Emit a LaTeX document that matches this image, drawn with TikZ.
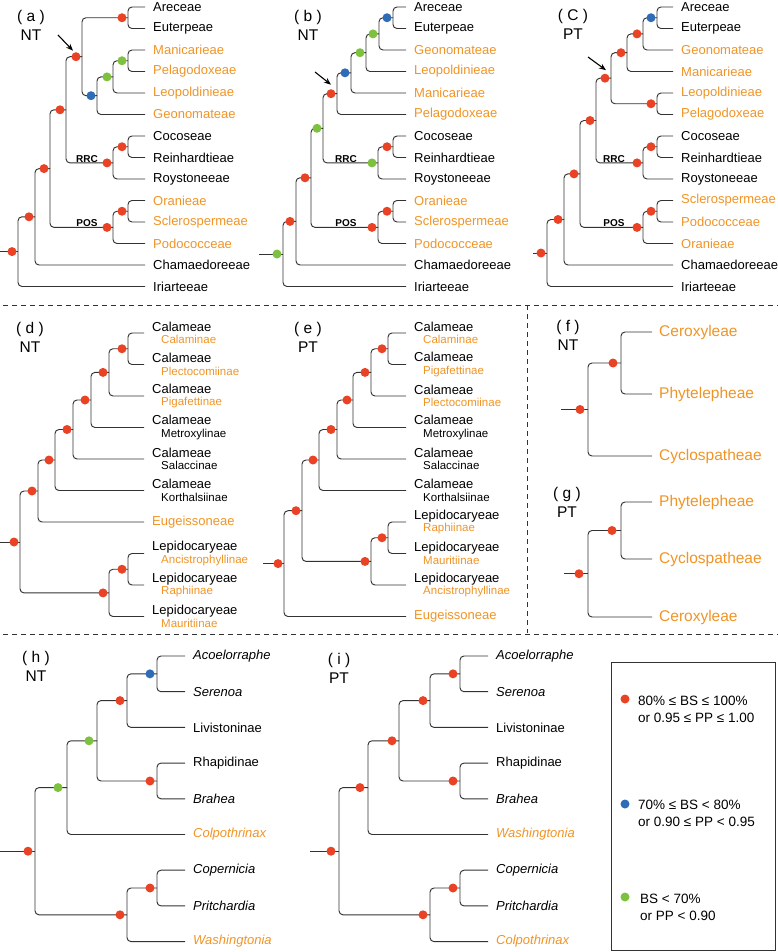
\documentclass[tikz,border=0pt]{standalone}
\usepackage{fontspec}
\setmainfont{Liberation Sans}
\usepackage{tikz}
\usetikzlibrary{arrows.meta, positioning}

\definecolor{dotred}{RGB}{233,66,36}
\definecolor{dotblue}{RGB}{46,108,182}
\definecolor{dotgreen}{RGB}{126,193,62}
\definecolor{taxorange}{RGB}{240,148,38}
\definecolor{branchgray}{RGB}{50,50,50}
\newcommand{\taxsub}{\fontsize{11.5}{12.5}\selectfont}

\begin{document}
\begin{tikzpicture}[x=1pt, y=-1pt,
  every node/.style={font=\fontsize{13}{15}\selectfont, inner sep=0pt},
  br/.style={draw=branchgray, line width=0.95pt, rounded corners=4pt},
  tip/.style={anchor=west, inner xsep=8pt},
  tipo/.style={tip, text=taxorange},
  tipi/.style={tip, font=\fontsize{13}{15}\selectfont\itshape},
  tipio/.style={tipi, text=taxorange},
  tipb/.style={tip, inner xsep=7pt, font=\fontsize{15.5}{17}\selectfont, text=taxorange},
  tipx/.style={tip, align=left, font=\fontsize{13}{12.5}\selectfont},
  panel/.style={align=center, font=\fontsize{15.5}{19}\selectfont},
  clade/.style={anchor=south, inner sep=1pt, font=\fontsize{10}{12}\selectfont\bfseries},
  arr/.style={-{Stealth[length=7pt, width=5.5pt]}, line width=1.1pt},
  sep/.style={draw=branchgray, line width=0.8pt, dash pattern=on 5pt off 4pt},
  leg/.style={anchor=west, align=left, font=\fontsize{13.5}{17}\selectfont}
]
\useasboundingbox (0,0) rectangle (778,952);

%% ---- PANEL (a) NT ---------------------------------------------
\node[panel] (pa) at (31,25) {(\ a\ )\\NT};

\node[tip]  (aAre) at (145,7)     {Areceae};
\node[tip]  (aEut) at (145,28.5)  {Euterpeae};
\node[tipo] (aMan) at (145,50)    {Manicarieae};
\node[tipo] (aPel) at (145,71.5)  {Pelagodoxeae};
\node[tipo] (aLeo) at (145,93)    {Leopoldinieae};
\node[tipo] (aGeo) at (145,114.5) {Geonomateae};
\node[tip]  (aCoc) at (145,136)   {Cocoseae};
\node[tip]  (aRei) at (145,157.5) {Reinhardtieae};
\node[tip]  (aRoy) at (145,179)   {Roystoneeae};
\node[tipo] (aOra) at (145,200.5) {Oranieae};
\node[tipo] (aScl) at (145,222)   {Sclerospermeae};
\node[tipo] (aPod) at (145,243.5) {Podococceae};
\node[tip]  (aCha) at (145,265)   {Chamaedoreeae};
\node[tip]  (aIri) at (145,286.5) {Iriarteeae};

\coordinate (a00)  at (0,251.6);
\coordinate (a0)   at (18,251.6);
\coordinate (a1)   at (35,216.8);
\coordinate (a2)   at (50,168.6);
\coordinate (a3)   at (66,109.8);
\coordinate (a4)   at (82,56.7);
\coordinate (a5)   at (128,17.75);
\coordinate (a6)   at (97,95.7);
\coordinate (a7)   at (113,76.9);
\coordinate (a8)   at (128,60.75);
\coordinate (aRRC) at (113,162.9);
\coordinate (a9)   at (128,146.75);
\coordinate (aPOS) at (113,227.4);
\coordinate (a10)  at (128,211.25);

\draw[br] (a00) -- (a0);
\draw[br] (a0) |- (a1) (a0) |- (aIri);
\draw[br] (a1) |- (a2) (a1) |- (aCha);
\draw[br] (a2) |- (a3) (a2) |- (aPOS);
\draw[br] (a3) |- (a4) (a3) |- (aRRC);
\draw[br] (a4) |- (a5) (a4) |- (a6);
\draw[br] (a5) |- (aAre) (a5) |- (aEut);
\draw[br] (a6) |- (a7) (a6) |- (aGeo);
\draw[br] (a7) |- (a8) (a7) |- (aLeo);
\draw[br] (a8) |- (aMan) (a8) |- (aPel);
\draw[br] (aRRC) |- (a9) (aRRC) |- (aRoy);
\draw[br] (a9) |- (aCoc) (a9) |- (aRei);
\draw[br] (aPOS) |- (a10) (aPOS) |- (aPod);
\draw[br] (a10) |- (aOra) (a10) |- (aScl);

\fill[dotred] ([xshift=-6pt]a0) circle (4.5) ([xshift=-6pt]a1) circle (4.5)
  ([xshift=-6pt]a2) circle (4.5) ([xshift=-6pt]a3) circle (4.5)
  ([xshift=-6pt]a4) circle (4.5) ([xshift=-6pt]a5) circle (4.5)
  ([xshift=-6pt]aRRC) circle (4.5) ([xshift=-6pt]a9) circle (4.5)
  ([xshift=-6pt]aPOS) circle (4.5) ([xshift=-6pt]a10) circle (4.5);
\fill[dotblue] ([xshift=-6pt]a6) circle (4.5);
\fill[dotgreen] ([xshift=-6pt]a7) circle (4.5) ([xshift=-6pt]a8) circle (4.5);

\node[clade] (aRRCl) at (87,163.5) {RRC};
\node[clade] (aPOSl) at (87,228) {POS};

\coordinate (aArr) at (58,35);
\draw[arr] (aArr) -- ([shift={(-9,-6)}]a4);

%% ---- PANEL (b) NT ---------------------------------------------
\node[panel] (pb) at (308,25) {(\ b\ )\\NT};

\node[tip]  (bAre) at (406,7)     {Areceae};
\node[tip]  (bEut) at (406,28.5)  {Euterpeae};
\node[tipo] (bGeo) at (406,50)    {Geonomateae};
\node[tipo] (bLeo) at (406,71.5)  {Leopoldinieae};
\node[tipo] (bMan) at (406,93)    {Manicarieae};
\node[tipo] (bPel) at (406,114.5) {Pelagodoxeae};
\node[tip]  (bCoc) at (406,136)   {Cocoseae};
\node[tip]  (bRei) at (406,157.5) {Reinhardtieae};
\node[tip]  (bRoy) at (406,179)   {Roystoneeae};
\node[tipo] (bOra) at (406,200.5) {Oranieae};
\node[tipo] (bScl) at (406,222)   {Sclerospermeae};
\node[tipo] (bPod) at (406,243.5) {Podococceae};
\node[tip]  (bCha) at (406,265)   {Chamaedoreeae};
\node[tip]  (bIri) at (406,286.5) {Iriarteeae};

\coordinate (b00)  at (259,254);
\coordinate (b0)   at (283,254);
\coordinate (b1)   at (296,221.4);
\coordinate (b2)   at (311,177.8);
\coordinate (b3)   at (323,128.3);
\coordinate (b4)   at (337,93.7);
\coordinate (b5)   at (351,72.8);
\coordinate (b6)   at (366,52.7);
\coordinate (b7)   at (379,33.9);
\coordinate (b8)   at (393,17.75);
\coordinate (bRRC) at (378,162.9);
\coordinate (b9)   at (393,146.75);
\coordinate (bPOS) at (378,227.4);
\coordinate (b10)  at (393,211.25);

\draw[br] (b00) -- (b0);
\draw[br] (b0) |- (b1) (b0) |- (bIri);
\draw[br] (b1) |- (b2) (b1) |- (bCha);
\draw[br] (b2) |- (b3) (b2) |- (bPOS);
\draw[br] (b3) |- (b4) (b3) |- (bRRC);
\draw[br] (b4) |- (b5) (b4) |- (bPel);
\draw[br] (b5) |- (b6) (b5) |- (bMan);
\draw[br] (b6) |- (b7) (b6) |- (bLeo);
\draw[br] (b7) |- (b8) (b7) |- (bGeo);
\draw[br] (b8) |- (bAre) (b8) |- (bEut);
\draw[br] (bRRC) |- (b9) (bRRC) |- (bRoy);
\draw[br] (b9) |- (bCoc) (b9) |- (bRei);
\draw[br] (bPOS) |- (b10) (bPOS) |- (bPod);
\draw[br] (b10) |- (bOra) (b10) |- (bScl);

\fill[dotred] ([xshift=-6pt]b1) circle (4.5) ([xshift=-6pt]b2) circle (4.5)
  ([xshift=-6pt]b4) circle (4.5) ([xshift=-6pt]b9) circle (4.5)
  ([xshift=-6pt]bPOS) circle (4.5) ([xshift=-6pt]b10) circle (4.5);
\fill[dotblue] ([xshift=-6pt]b5) circle (4.5) ([xshift=-6pt]b8) circle (4.5);
\fill[dotgreen] ([xshift=-6pt]b0) circle (4.5) ([xshift=-6pt]b3) circle (4.5)
  ([xshift=-6pt]b6) circle (4.5) ([xshift=-6pt]b7) circle (4.5)
  ([xshift=-6pt]bRRC) circle (4.5);

\node[clade] (bRRCl) at (346,163.5) {RRC};
\node[clade] (bPOSl) at (346,228) {POS};

\coordinate (bArr) at (315,72);
\draw[arr] (bArr) -- ([shift={(-6,-9)}]b4);

%% ---- PANEL (c) PT ---------------------------------------------
\node[panel] (pc) at (573,24) {(\ C\ )\\PT};

\node[tip]  (cAre) at (673,7)     {Areceae};
\node[tip]  (cEut) at (673,28.5)  {Euterpeae};
\node[tipo] (cGeo) at (673,50)    {Geonomateae};
\node[tipo] (cMan) at (673,71.5)  {Manicarieae};
\node[tipo] (cLeo) at (673,93)    {Leopoldinieae};
\node[tipo] (cPel) at (673,114.5) {Pelagodoxeae};
\node[tip]  (cCoc) at (673,136)   {Cocoseae};
\node[tip]  (cRei) at (673,157.5) {Reinhardtieae};
\node[tip]  (cRoy) at (673,179)   {Roystoneeae};
\node[tipo] (cScl) at (673,200.5) {Sclerospermeae};
\node[tipo] (cPod) at (673,222)   {Podococceae};
\node[tipo] (cOra) at (673,243.5) {Oranieae};
\node[tip]  (cCha) at (673,265)   {Chamaedoreeae};
\node[tip]  (cIri) at (673,286.5) {Iriarteeae};

\coordinate (c00)  at (533,253);
\coordinate (c0)   at (547,253);
\coordinate (c1)   at (564,219.5);
\coordinate (c2)   at (580,173.9);
\coordinate (c3)   at (596,120.5);
\coordinate (c4)   at (611,78.2);
\coordinate (c5)   at (627,52.7);
\coordinate (c6)   at (657,103.75);
\coordinate (c7)   at (643,33.9);
\coordinate (c8)   at (657,17.75);
\coordinate (cRRC) at (643,162.9);
\coordinate (c9)   at (657,146.75);
\coordinate (cPOS) at (643,227.4);
\coordinate (c10)  at (657,211.25);

\draw[br] (c00) -- (c0);
\draw[br] (c0) |- (c1) (c0) |- (cIri);
\draw[br] (c1) |- (c2) (c1) |- (cCha);
\draw[br] (c2) |- (c3) (c2) |- (cPOS);
\draw[br] (c3) |- (c4) (c3) |- (cRRC);
\draw[br] (c4) |- (c5) (c4) |- (c6);
\draw[br] (c5) |- (c7) (c5) |- (cMan);
\draw[br] (c7) |- (c8) (c7) |- (cGeo);
\draw[br] (c8) |- (cAre) (c8) |- (cEut);
\draw[br] (c6) |- (cLeo) (c6) |- (cPel);
\draw[br] (cRRC) |- (c9) (cRRC) |- (cRoy);
\draw[br] (c9) |- (cCoc) (c9) |- (cRei);
\draw[br] (cPOS) |- (c10) (cPOS) |- (cOra);
\draw[br] (c10) |- (cScl) (c10) |- (cPod);

\fill[dotred] ([xshift=-6pt]c0) circle (4.5) ([xshift=-6pt]c1) circle (4.5)
  ([xshift=-6pt]c2) circle (4.5) ([xshift=-6pt]c3) circle (4.5)
  ([xshift=-6pt]c4) circle (4.5) ([xshift=-6pt]c5) circle (4.5)
  ([xshift=-6pt]c6) circle (4.5) ([xshift=-6pt]c7) circle (4.5)
  ([xshift=-6pt]cRRC) circle (4.5) ([xshift=-6pt]c9) circle (4.5)
  ([xshift=-6pt]cPOS) circle (4.5) ([xshift=-6pt]c10) circle (4.5);
\fill[dotblue] ([xshift=-6pt]c8) circle (4.5);

\node[clade] (cRRCl) at (614,163.5) {RRC};
\node[clade] (cPOSl) at (614,228) {POS};

\coordinate (cArr) at (588,57);
\draw[arr] (cArr) -- ([shift={(-5,-8)}]c4);

%% ---- SEPARATORS -----------------------------------------------
\draw[sep] (3,305) -- (778,305);
\draw[sep] (527,305) -- (527,633);
\draw[sep] (3,634) -- (778,634);

%% ---- PANEL (d) NT ---------------------------------------------
\node[panel] (pd) at (30,337) {(\ d\ )\\NT};

\node[tipx] (dCal) at (144,333)   {Calameae\\\hspace*{9pt}{\taxsub\color{taxorange}Calaminae}};
\node[tipx] (dPle) at (144,364.5) {Calameae\\\hspace*{9pt}{\taxsub\color{taxorange}Plectocomiinae}};
\node[tipx] (dPig) at (144,396)   {Calameae\\\hspace*{9pt}{\taxsub\color{taxorange}Pigafettinae}};
\node[tipx] (dMet) at (144,427.5) {Calameae\\\hspace*{9pt}{\taxsub Metroxylinae}};
\node[tipx] (dSal) at (144,459)   {Calameae\\\hspace*{9pt}{\taxsub Salaccinae}};
\node[tipx] (dKor) at (144,490.5) {Calameae\\\hspace*{9pt}{\taxsub Korthalsiinae}};
\node[tipo] (dEug) at (144,522)   {Eugeissoneae};
\node[tipx] (dAnc) at (144,553.5) {Lepidocaryeae\\\hspace*{9pt}{\taxsub\color{taxorange}Ancistrophyllinae}};
\node[tipx] (dRap) at (144,585)   {Lepidocaryeae\\\hspace*{9pt}{\taxsub\color{taxorange}Raphiinae}};
\node[tipx] (dMau) at (144,616.5) {Lepidocaryeae\\\hspace*{9pt}{\taxsub\color{taxorange}Mauritiinae}};

\coordinate (d00) at (0,542);
\coordinate (d0)  at (20,542);
\coordinate (d1)  at (38,491);
\coordinate (d2)  at (55,460);
\coordinate (d3)  at (73,429.5);
\coordinate (d4)  at (91,400);
\coordinate (d5)  at (109,372.4);
\coordinate (d6)  at (128,348.75);
\coordinate (dL1) at (109,592.9);
\coordinate (dL2) at (128,569.25);

\draw[br] (d00) -- (d0);
\draw[br] (d0) |- (d1) (d0) |- (dL1);
\draw[br] (d1) |- (d2) (d1) |- (dEug);
\draw[br] (d2) |- (d3) (d2) |- (dKor);
\draw[br] (d3) |- (d4) (d3) |- (dSal);
\draw[br] (d4) |- (d5) (d4) |- (dMet);
\draw[br] (d5) |- (d6) (d5) |- (dPig);
\draw[br] (d6) |- (dCal) (d6) |- (dPle);
\draw[br] (dL1) |- (dL2) (dL1) |- (dMau);
\draw[br] (dL2) |- (dAnc) (dL2) |- (dRap);

\fill[dotred] ([xshift=-6pt]d0) circle (4.5) ([xshift=-6pt]d1) circle (4.5)
  ([xshift=-6pt]d2) circle (4.5) ([xshift=-6pt]d3) circle (4.5)
  ([xshift=-6pt]d4) circle (4.5) ([xshift=-6pt]d5) circle (4.5)
  ([xshift=-6pt]d6) circle (4.5) ([xshift=-6pt]dL1) circle (4.5)
  ([xshift=-6pt]dL2) circle (4.5);

%% ---- PANEL (e) PT ---------------------------------------------
\node[panel] (pe) at (308,337) {(\ e\ )\\PT};

\node[tipx] (eCal) at (406,333)   {Calameae\\\hspace*{9pt}{\taxsub\color{taxorange}Calaminae}};
\node[tipx] (ePig) at (406,364.5) {Calameae\\\hspace*{9pt}{\taxsub\color{taxorange}Pigafettinae}};
\node[tipx] (ePle) at (406,396)   {Calameae\\\hspace*{9pt}{\taxsub\color{taxorange}Plectocomiinae}};
\node[tipx] (eMet) at (406,427.5) {Calameae\\\hspace*{9pt}{\taxsub Metroxylinae}};
\node[tipx] (eSal) at (406,459)   {Calameae\\\hspace*{9pt}{\taxsub Salaccinae}};
\node[tipx] (eKor) at (406,490.5) {Calameae\\\hspace*{9pt}{\taxsub Korthalsiinae}};
\node[tipx] (eRap) at (406,522)   {Lepidocaryeae\\\hspace*{9pt}{\taxsub\color{taxorange}Raphiinae}};
\node[tipx] (eMau) at (406,553.5) {Lepidocaryeae\\\hspace*{9pt}{\taxsub\color{taxorange}Mauritiinae}};
\node[tipx] (eAnc) at (406,585)   {Lepidocaryeae\\\hspace*{9pt}{\taxsub\color{taxorange}Ancistrophyllinae}};
\node[tipo] (eEug) at (406,616.5) {Eugeissoneae};

\coordinate (e00) at (263,563.6);
\coordinate (e0)  at (284,563.6);
\coordinate (e1)  at (302,510.7);
\coordinate (e2)  at (319,460);
\coordinate (e3)  at (337,429.5);
\coordinate (e4)  at (353,400);
\coordinate (e5)  at (371,372.4);
\coordinate (e6)  at (388,348.75);
\coordinate (eL1) at (371,561.4);
\coordinate (eL2) at (388,537.75);

\draw[br] (e00) -- (e0);
\draw[br] (e0) |- (e1) (e0) |- (eEug);
\draw[br] (e1) |- (e2) (e1) |- (eL1);
\draw[br] (e2) |- (e3) (e2) |- (eKor);
\draw[br] (e3) |- (e4) (e3) |- (eSal);
\draw[br] (e4) |- (e5) (e4) |- (eMet);
\draw[br] (e5) |- (e6) (e5) |- (ePle);
\draw[br] (e6) |- (eCal) (e6) |- (ePig);
\draw[br] (eL1) |- (eL2) (eL1) |- (eAnc);
\draw[br] (eL2) |- (eRap) (eL2) |- (eMau);

\fill[dotred] ([xshift=-6pt]e0) circle (4.5) ([xshift=-6pt]e1) circle (4.5)
  ([xshift=-6pt]e2) circle (4.5) ([xshift=-6pt]e3) circle (4.5)
  ([xshift=-6pt]e4) circle (4.5) ([xshift=-6pt]e5) circle (4.5)
  ([xshift=-6pt]e6) circle (4.5) ([xshift=-6pt]eL1) circle (4.5)
  ([xshift=-6pt]eL2) circle (4.5);

%% ---- PANELS (f) NT, (g) PT ------------------------------------
\node[panel] (pf) at (568,335) {(\ f\ )\\NT};

\node[tipb] (fCer) at (652,332) {Ceroxyleae};
\node[tipb] (fPhy) at (652,394) {Phytelepheae};
\node[tipb] (fCyc) at (652,456) {Cyclospatheae};

\coordinate (f00) at (561,409.5);
\coordinate (f0)  at (588,409.5);
\coordinate (f1)  at (621,363);

\draw[br] (f00) -- (f0);
\draw[br] (f0) |- (f1) (f0) |- (fCyc);
\draw[br] (f1) |- (fCer) (f1) |- (fPhy);
\fill[dotred] ([xshift=-8pt]f0) circle (4.5) ([xshift=-8pt]f1) circle (4.5);

\node[panel] (pg) at (567,502) {(\ g\ )\\PT};

\node[tipb] (gPhy) at (652,502) {Phytelepheae};
\node[tipb] (gCyc) at (652,559) {Cyclospatheae};
\node[tipb] (gCer) at (652,617) {Ceroxyleae};

\coordinate (g00) at (564,573.75);
\coordinate (g0)  at (588,573.75);
\coordinate (g1)  at (621,530.5);

\draw[br] (g00) -- (g0);
\draw[br] (g0) |- (g1) (g0) |- (gCer);
\draw[br] (g1) |- (gPhy) (g1) |- (gCyc);
\fill[dotred] ([xshift=-9pt]g0) circle (4.5) ([xshift=-9pt]g1) circle (4.5);

%% ---- PANEL (h) NT ---------------------------------------------
\node[panel] (ph) at (36,666) {(\ h\ )\\NT};

\node[tipi]  (hAco) at (185,656)   {Acoelorraphe};
\node[tipi]  (hSer) at (185,691.7) {Serenoa};
\node[tip]   (hLiv) at (185,727.4) {Livistoninae};
\node[tip]   (hRha) at (185,763.1) {Rhapidinae};
\node[tipi]  (hBra) at (185,798.8) {Brahea};
\node[tipio] (hCol) at (185,834.5) {Colpothrinax};
\node[tipi]  (hCop) at (185,870.2) {Copernicia};
\node[tipi]  (hPri) at (185,905.9) {Pritchardia};
\node[tipio] (hWas) at (185,941.6) {Washingtonia};

\coordinate (h00) at (0,851.2);
\coordinate (h0)  at (35,851.2);
\coordinate (h1)  at (67,787.6);
\coordinate (h2)  at (97,740.8);
\coordinate (h3)  at (127,700.6);
\coordinate (h4)  at (157,673.85);
\coordinate (hR)  at (157,781);
\coordinate (hC)  at (127,914.8);
\coordinate (h5)  at (157,888);

\draw[br] (h00) -- (h0);
\draw[br] (h0) |- (h1) (h0) |- (hC);
\draw[br] (h1) |- (h2) (h1) |- (hCol);
\draw[br] (h2) |- (h3) (h2) |- (hR);
\draw[br] (h3) |- (h4) (h3) |- (hLiv);
\draw[br] (h4) |- (hAco) (h4) |- (hSer);
\draw[br] (hR) |- (hRha) (hR) |- (hBra);
\draw[br] (hC) |- (h5) (hC) |- (hWas);
\draw[br] (h5) |- (hCop) (h5) |- (hPri);

\fill[dotred] ([xshift=-7pt]h0) circle (4.5) ([xshift=-7pt]h3) circle (4.5)
  ([xshift=-7pt]hR) circle (4.5) ([xshift=-7pt]hC) circle (4.5)
  ([xshift=-7pt]h5) circle (4.5);
\fill[dotblue] ([xshift=-7pt]h4) circle (4.5);
\fill[dotgreen] ([xshift=-9pt]h1) circle (4.5) ([xshift=-8pt]h2) circle (4.5);

%% ---- PANEL (i) PT ---------------------------------------------
\node[panel] (pi) at (339,668) {(\ i\ )\\PT};

\node[tipi]  (iAco) at (488,656)   {Acoelorraphe};
\node[tipi]  (iSer) at (488,691.7) {Serenoa};
\node[tip]   (iLiv) at (488,727.4) {Livistoninae};
\node[tip]   (iRha) at (488,763.1) {Rhapidinae};
\node[tipi]  (iBra) at (488,798.8) {Brahea};
\node[tipio] (iWas) at (488,834.5) {Washingtonia};
\node[tipi]  (iCop) at (488,870.2) {Copernicia};
\node[tipi]  (iPri) at (488,905.9) {Pritchardia};
\node[tipio] (iCol) at (488,941.6) {Colpothrinax};

\coordinate (i00) at (310,851.2);
\coordinate (i0)  at (339,851.2);
\coordinate (i1)  at (368,787.6);
\coordinate (i2)  at (399,740.8);
\coordinate (i3)  at (430,700.6);
\coordinate (i4)  at (460,673.85);
\coordinate (iR)  at (460,781);
\coordinate (iC)  at (430,914.8);
\coordinate (i5)  at (460,888);

\draw[br] (i00) -- (i0);
\draw[br] (i0) |- (i1) (i0) |- (iC);
\draw[br] (i1) |- (i2) (i1) |- (iWas);
\draw[br] (i2) |- (i3) (i2) |- (iR);
\draw[br] (i3) |- (i4) (i3) |- (iLiv);
\draw[br] (i4) |- (iAco) (i4) |- (iSer);
\draw[br] (iR) |- (iRha) (iR) |- (iBra);
\draw[br] (iC) |- (i5) (iC) |- (iCol);
\draw[br] (i5) |- (iCop) (i5) |- (iPri);

\fill[dotred] ([xshift=-8pt]i0) circle (4.5) ([xshift=-8pt]i1) circle (4.5)
  ([xshift=-7pt]i2) circle (4.5) ([xshift=-7pt]i3) circle (4.5)
  ([xshift=-7pt]i4) circle (4.5) ([xshift=-7pt]iR) circle (4.5)
  ([xshift=-7pt]iC) circle (4.5) ([xshift=-7pt]i5) circle (4.5);

%% ---- LEGEND ---------------------------------------------------
\node[draw=branchgray, line width=0.9pt, minimum width=164pt,
      minimum height=288pt] (legbox) at (693,806) {};

\fill[dotred] (625,699) circle (4.5);
\node[leg] (lgRed) at (638,709) {80\% ≤ BS ≤ 100\%\\or 0.95 ≤ PP ≤ 1.00};
\fill[dotblue] (625,804) circle (4.5);
\node[leg] (lgBlue) at (638,813) {70\% ≤ BS < 80\%\\or 0.90 ≤ PP < 0.95};
\fill[dotgreen] (625,897) circle (4.5);
\node[leg] (lgGreen) at (640,907) {BS < 70\%\\or PP < 0.90};

\end{tikzpicture}
\end{document}
